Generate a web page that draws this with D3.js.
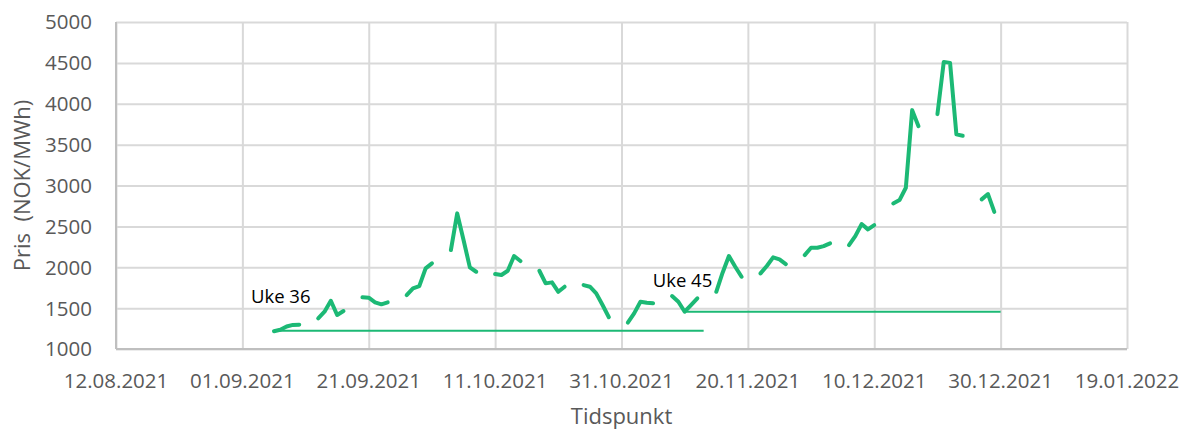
<!DOCTYPE html>
<html>
<head>
<meta charset="utf-8">
<script src="https://cdn.jsdelivr.net/npm/d3@7/dist/d3.min.js"></script>
<style>
  body { margin: 0; background: #fff; }
  svg text { font-family: "Open Sans", sans-serif; }
</style>
</head>
<body>
<div id="chart"></div>
<script>
// weekday prices, NOK/MWh (weekends have no value -> gaps)
var dates = [
  "06.09.2021","07.09.2021","08.09.2021","09.09.2021","10.09.2021",
  "13.09.2021","14.09.2021","15.09.2021","16.09.2021","17.09.2021",
  "20.09.2021","21.09.2021","22.09.2021","23.09.2021","24.09.2021",
  "27.09.2021","28.09.2021","29.09.2021","30.09.2021","01.10.2021",
  "04.10.2021","05.10.2021","06.10.2021","07.10.2021","08.10.2021",
  "11.10.2021","12.10.2021","13.10.2021","14.10.2021","15.10.2021",
  "18.10.2021","19.10.2021","20.10.2021","21.10.2021","22.10.2021",
  "25.10.2021","26.10.2021","27.10.2021","28.10.2021","29.10.2021",
  "01.11.2021","02.11.2021","03.11.2021","04.11.2021","05.11.2021",
  "08.11.2021","09.11.2021","10.11.2021","11.11.2021","12.11.2021",
  "15.11.2021","16.11.2021","17.11.2021","18.11.2021","19.11.2021",
  "22.11.2021","23.11.2021","24.11.2021","25.11.2021","26.11.2021",
  "29.11.2021","30.11.2021","01.12.2021","02.12.2021","03.12.2021",
  "06.12.2021","07.12.2021","08.12.2021","09.12.2021","10.12.2021",
  "13.12.2021","14.12.2021","15.12.2021","16.12.2021","17.12.2021",
  "20.12.2021","21.12.2021","22.12.2021","23.12.2021","24.12.2021",
  "27.12.2021","28.12.2021","29.12.2021"
];
var prices = [
  1218,1235,1275,1295,1298,
  1375,1456,1590,1416,1465,
  1632,1627,1571,1546,1571,
  1660,1742,1770,1987,2048,
  2210,2659,2333,1999,1945,
  1917,1905,1957,2137,2076,
  1957,1803,1815,1700,1762,
  1782,1762,1681,1538,1388,
  1322,1436,1578,1566,1559,
  1648,1578,1456,1538,1620,
  1700,1933,2137,2006,1884,
  1925,2015,2121,2097,2039,
  2149,2238,2238,2259,2292,
  2271,2381,2528,2463,2516,
  2781,2822,2972,3922,3726,
  3873,4512,4500,3625,3608,
  2830,2895,2678
];

// reference lines (lowest price of the week)
var refNames  = ["Uke 36", "Uke 45"];
var refStart  = ["06.09.2021", "10.11.2021"];
var refEnd    = ["13.11.2021", "30.12.2021"];
var refValue  = [1222, 1456];

var xTicks = ["12.08.2021","01.09.2021","21.09.2021","11.10.2021","31.10.2021",
              "20.11.2021","10.12.2021","30.12.2021","19.01.2022"];
var yTicks = [1000,1500,2000,2500,3000,3500,4000,4500,5000];

var parseDate = d3.timeParse("%d.%m.%Y");
var formatDate = d3.timeFormat("%d.%m.%Y");

var width = 1183, height = 430;
var margin = {top: 22, right: 56, bottom: 81, left: 116};

var svg = d3.select("#chart").append("svg")
  .attr("width", width)
  .attr("height", height);

var x = d3.scaleTime()
  .domain([parseDate(xTicks[0]), parseDate(xTicks[xTicks.length-1])])
  .range([margin.left, width - margin.right]);

var y = d3.scaleLinear()
  .domain([1000, 5000])
  .range([height - margin.bottom, margin.top]);

// gridlines
svg.append("g")
  .attr("class", "ygrid")
  .attr("transform", "translate(" + margin.left + ",0)")
  .call(d3.axisLeft(y).tickValues(yTicks)
    .tickSize(-(width - margin.left - margin.right)).tickFormat(""))
  .call(function(g){ g.select(".domain").remove(); })
  .selectAll("line").attr("stroke", "#d9d9d9").attr("stroke-width", 2);

svg.append("g")
  .attr("class", "xgrid")
  .attr("transform", "translate(0," + (height - margin.bottom) + ")")
  .call(d3.axisBottom(x).tickValues(xTicks.map(parseDate))
    .tickSize(-(height - margin.top - margin.bottom)).tickFormat(""))
  .call(function(g){ g.select(".domain").remove(); })
  .selectAll("line").attr("stroke", "#d9d9d9").attr("stroke-width", 2);

// axis lines
svg.append("line")
  .attr("x1", margin.left).attr("x2", width - margin.right)
  .attr("y1", y(1000)).attr("y2", y(1000))
  .attr("stroke", "#bfbfbf").attr("stroke-width", 2);
svg.append("line")
  .attr("x1", margin.left).attr("x2", margin.left)
  .attr("y1", y(1000)).attr("y2", y(5000))
  .attr("stroke", "#bfbfbf").attr("stroke-width", 2);

// tick labels
svg.append("g").selectAll("text")
  .data(yTicks)
  .enter().append("text")
  .attr("x", margin.left - 24)
  .attr("y", function(d){ return y(d); })
  .attr("dy", "0.36em")
  .attr("text-anchor", "end")
  .attr("font-size", "20.5px")
  .attr("fill", "#595959")
  .text(function(d){ return d; });

svg.append("g").selectAll("text")
  .data(xTicks)
  .enter().append("text")
  .attr("x", function(d){ return x(parseDate(d)); })
  .attr("y", 387.5)
  .attr("text-anchor", "middle")
  .attr("font-size", "20.5px")
  .attr("fill", "#595959")
  .text(function(d){ return d; });

// axis titles
svg.append("text")
  .attr("transform", "translate(30," + ((margin.top + height - margin.bottom)/2) + ") rotate(-90)")
  .attr("text-anchor", "middle")
  .attr("font-size", "22px")
  .attr("fill", "#595959")
  .attr("xml:space", "preserve")
  .style("white-space", "pre")
  .text("Pris  (NOK/MWh)");

svg.append("text")
  .attr("x", (margin.left + width - margin.right)/2)
  .attr("y", 424)
  .attr("text-anchor", "middle")
  .attr("font-size", "22px")
  .attr("fill", "#595959")
  .text("Tidspunkt");

// price series split into runs of consecutive days
var points = dates.map(function(d, i){ return {date: parseDate(d), value: prices[i]}; });
var segments = [];
points.forEach(function(p, i){
  if (i === 0 || (p.date - points[i-1].date) > 86400000 * 1.5) segments.push([]);
  segments[segments.length-1].push(p);
});

var line = d3.line()
  .x(function(d){ return x(d.date); })
  .y(function(d){ return y(d.value); });

var green = "#1cb975";

svg.append("g").selectAll("path.ref")
  .data(refNames)
  .enter().append("path")
  .attr("class", "ref")
  .attr("fill", "none")
  .attr("stroke", green)
  .attr("stroke-width", 2)
  .attr("d", function(d, i){
    return line([{date: parseDate(refStart[i]), value: refValue[i]},
                 {date: parseDate(refEnd[i]), value: refValue[i]}]);
  });

svg.append("g").selectAll("path.price")
  .data(segments)
  .enter().append("path")
  .attr("class", "price")
  .attr("fill", "none")
  .attr("stroke", green)
  .attr("stroke-width", 4)
  .attr("stroke-linejoin", "round")
  .attr("stroke-linecap", "round")
  .attr("d", line);

// week labels
var labelDx = [-23, -32];
var labelDy = [-28, -25];
svg.append("g").selectAll("text")
  .data(refNames)
  .enter().append("text")
  .attr("x", function(d, i){ return x(parseDate(refStart[i])) + labelDx[i]; })
  .attr("y", function(d, i){ return y(refValue[i]) + labelDy[i]; })
  .attr("font-size", "18.5px")
  .attr("fill", "#000")
  .text(function(d){ return d; });
</script>
</body>
</html>
